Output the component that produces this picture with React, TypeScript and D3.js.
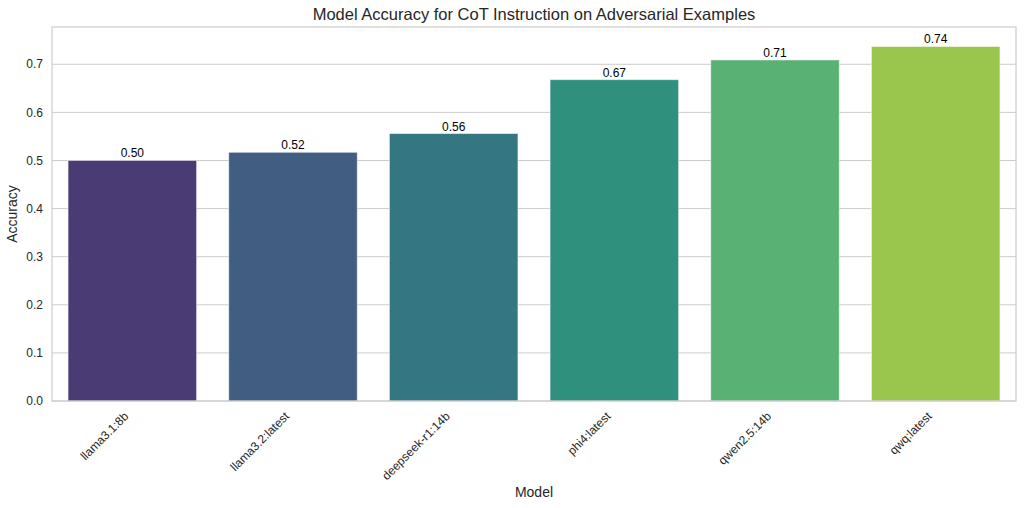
import React, { useEffect, useRef } from 'react';
import * as d3 from 'd3';

const models = ['llama3.1:8b', 'llama3.2:latest', 'deepseek-r1:14b', 'phi4:latest', 'qwen2.5:14b', 'qwq:latest'];
const accuracy = [0.5, 0.517, 0.556, 0.668, 0.709, 0.737];
const yTicks = [0, 0.1, 0.2, 0.3, 0.4, 0.5, 0.6, 0.7];

const width = 1024;
const height = 508;
const margin = { top: 27, right: 8, bottom: 107, left: 52 };

// seaborn-like viridis: evenly spaced inner points, desaturated to 0.75
function palette(n: number) {
  return d3.range(n).map(i => {
    const c = d3.hsl(d3.interpolateViridis((i + 1) / (n + 1)));
    c.s *= 0.75;
    return c.formatHex();
  });
}

export default function App() {
  const svgRef = useRef<SVGSVGElement>(null);

  useEffect(() => {
    if (!svgRef.current) return;
    const svg = d3.select(svgRef.current);
    svg.selectAll('*').remove();

    const font = 'Liberation Sans, Arial, sans-serif';
    const innerW = width - margin.left - margin.right;
    const innerH = height - margin.top - margin.bottom;
    const colors = palette(models.length);

    const x = d3.scaleBand().domain(models).range([0, innerW]).paddingInner(0.2).paddingOuter(0.1);
    const y = d3.scaleLinear().domain([0, 0.7775]).range([innerH, 0]);

    const g = svg.append('g').attr('transform', `translate(${margin.left},${margin.top})`);

    // grid
    g.selectAll('.grid')
      .data(yTicks)
      .enter().append('line')
      .attr('x1', 0)
      .attr('x2', innerW)
      .attr('y1', d => y(d))
      .attr('y2', d => y(d))
      .attr('stroke', '#cccccc')
      .attr('stroke-width', 1);

    // bars
    g.selectAll('.bar')
      .data(models)
      .enter().append('rect')
      .attr('x', d => x(d)!)
      .attr('y', (d, i) => y(accuracy[i]))
      .attr('width', x.bandwidth())
      .attr('height', (d, i) => innerH - y(accuracy[i]))
      .attr('fill', (d, i) => colors[i])
      .attr('stroke', '#ffffff')
      .attr('stroke-opacity', 0.5)
      .attr('stroke-width', 1);

    // value labels
    g.selectAll('.val')
      .data(models)
      .enter().append('text')
      .attr('x', d => x(d)! + x.bandwidth() / 2)
      .attr('y', (d, i) => y(accuracy[i]) - 3)
      .attr('text-anchor', 'middle')
      .style('font-family', font)
      .style('font-size', '12px')
      .style('fill', '#000')
      .text((d, i) => accuracy[i].toFixed(2));

    // frame
    g.append('rect')
      .attr('x', 0)
      .attr('y', 0)
      .attr('width', innerW)
      .attr('height', innerH)
      .attr('fill', 'none')
      .attr('stroke', '#cccccc')
      .attr('stroke-width', 1.2);

    // y tick labels
    g.selectAll('.ytick')
      .data(yTicks)
      .enter().append('text')
      .attr('x', -9)
      .attr('y', d => y(d))
      .attr('dy', '0.35em')
      .attr('text-anchor', 'end')
      .style('font-family', font)
      .style('font-size', '12px')
      .style('fill', '#262626')
      .text(d => d.toFixed(1));

    // x tick labels
    g.selectAll('.xtick')
      .data(models)
      .enter().append('text')
      .attr('transform', d => `translate(${x(d)! + x.bandwidth() / 2 - 6},${innerH + 13}) rotate(-45)`)
      .attr('text-anchor', 'end')
      .attr('dy', '0.35em')
      .style('font-family', font)
      .style('font-size', '12px')
      .style('fill', '#262626')
      .text(d => d);

    // axis labels
    svg.append('text')
      .attr('x', margin.left + innerW / 2)
      .attr('y', 497)
      .attr('text-anchor', 'middle')
      .style('font-family', font)
      .style('font-size', '14px')
      .style('fill', '#262626')
      .text('Model');

    svg.append('text')
      .attr('transform', `translate(17,${margin.top + innerH / 2}) rotate(-90)`)
      .attr('text-anchor', 'middle')
      .style('font-family', font)
      .style('font-size', '14px')
      .style('fill', '#262626')
      .text('Accuracy');

    svg.append('text')
      .attr('x', margin.left + innerW / 2)
      .attr('y', 20)
      .attr('text-anchor', 'middle')
      .style('font-family', font)
      .style('font-size', '16.5px')
      .style('fill', '#262626')
      .text('Model Accuracy for CoT Instruction on Adversarial Examples');
  }, []);

  return (
    <svg
      ref={svgRef}
      width={width}
      height={height}
      viewBox={`0 0 ${width} ${height}`}
      style={{ position: 'absolute', left: 0, top: 0, background: '#fff' }}
    />
  );
}
